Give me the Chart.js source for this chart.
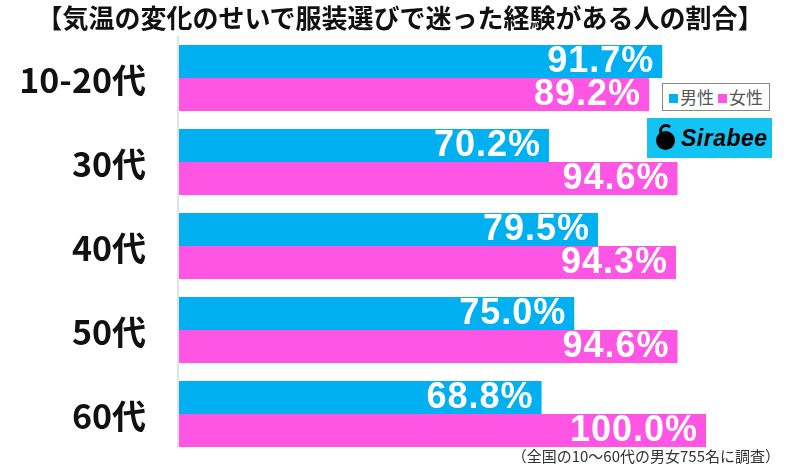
<!DOCTYPE html>
<html lang="ja">
<head>
  <meta charset="UTF-8">
  <title>気温の変化のせいで服装選びで迷った経験がある人の割合</title>
  <script src="https://cdn.jsdelivr.net/npm/chart.js"></script>
  <style>
    html, body { margin: 0; padding: 0; background: #fff; }
    .wrap { position: relative; width: 800px; height: 466px; overflow: hidden; font-family: "Noto Sans CJK JP", sans-serif; }
    #chart { position: absolute; left: 0; top: 0; }
    .title { position: absolute; left: 0; top: 0; width: 800px; text-align: center; font-size: 26px; font-weight: bold; line-height: 34px; color: #111; }
    .legend { position: absolute; left: 662px; top: 83px; width: 106px; height: 26px; border: 1.5px solid #888; font-size: 17px; line-height: 26px; color: #555; text-align: center; background: #fff; }
    .legend i { display: inline-block; width: 9px; height: 9px; margin: 0 2px 2px 0; vertical-align: middle; }
    .logo { position: absolute; left: 647px; top: 118px; width: 125px; height: 40px; background: #12c3f4; }
    .logo .txt { position: absolute; left: 34px; top: 2px; font-family: "Liberation Sans", sans-serif; font-weight: bold; font-style: italic; font-size: 23px; line-height: 36px; color: #000; letter-spacing: 0.5px; }
    .logo .ico { position: absolute; left: 9px; top: 13px; width: 19px; height: 19px; border-radius: 50%; background: #000; }
    .logo .ico2 { position: absolute; left: 12px; top: 6px; width: 8px; height: 8px; border: 3px solid #000; border-radius: 50%; border-right-color: transparent; }
    .note { position: absolute; right: 20px; top: 446px; font-size: 15px; line-height: 20px; color: #333; }
  </style>
</head>
<body>
<div class="wrap">
  <canvas id="chart" width="800" height="466"></canvas>
  <div class="title">【気温の変化のせいで服装選びで迷った経験がある人の割合】</div>
  <div class="legend"><i style="background:#00b0f0"></i>男性 <i style="background:#ff55e5"></i>女性</div>
  <div class="logo"><div class="ico2"></div><div class="ico"></div><div class="txt">Sirabee</div></div>
  <div class="note">（全国の10〜60代の男女755名に調査）</div>
</div>
<script>
const categories = ['10-20代', '30代', '40代', '50代', '60代'];
const male = [91.7, 70.2, 79.5, 75.0, 68.8];
const female = [89.2, 94.6, 94.3, 94.6, 100.0];

const blue = '#00b0f0';
const pink = '#ff55e5';

// category labels, axis line and the values inside the bars
const drawExtras = {
  id: 'drawExtras',
  afterDatasetsDraw(chart) {
    const ctx = chart.ctx;
    const area = chart.chartArea;
    ctx.save();
    ctx.strokeStyle = '#e2e2e2';
    ctx.lineWidth = 2;
    ctx.beginPath();
    ctx.moveTo(area.left - 1, area.top);
    ctx.lineTo(area.left - 1, area.bottom - 8);
    ctx.stroke();

    const yScale = chart.scales.y;
    ctx.fillStyle = '#111';
    ctx.font = 'bold 34px "Noto Sans CJK JP", sans-serif';
    ctx.textAlign = 'right';
    ctx.textBaseline = 'middle';
    categories.forEach((c, i) => {
      ctx.fillText(c, 146, yScale.getPixelForValue(i) + 2);
    });

    ctx.font = 'bold 36px "Liberation Sans", Arial, sans-serif';
    ctx.letterSpacing = '1px';
    ctx.fillStyle = '#fff';
    chart.data.datasets.forEach((ds, di) => {
      chart.getDatasetMeta(di).data.forEach((bar, i) => {
        ctx.fillText(ds.data[i].toFixed(1) + '%', bar.x - 8, bar.y + 1);
      });
    });
    ctx.restore();
  }
};

new Chart(document.getElementById('chart'), {
  type: 'bar',
  data: {
    labels: categories,
    datasets: [
      { label: '男性', data: male, backgroundColor: blue },
      { label: '女性', data: female, backgroundColor: pink }
    ]
  },
  options: {
    indexAxis: 'y',
    responsive: false,
    animation: false,
    layout: { padding: { left: 179, right: 94, top: 36, bottom: 10 } },
    datasets: { bar: { categoryPercentage: 0.786, barPercentage: 1 } },
    scales: {
      x: { display: false, min: 0, max: 100 },
      y: { display: false }
    },
    plugins: { legend: { display: false }, tooltip: { enabled: false } }
  },
  plugins: [drawExtras]
});
</script>
</body>
</html>
